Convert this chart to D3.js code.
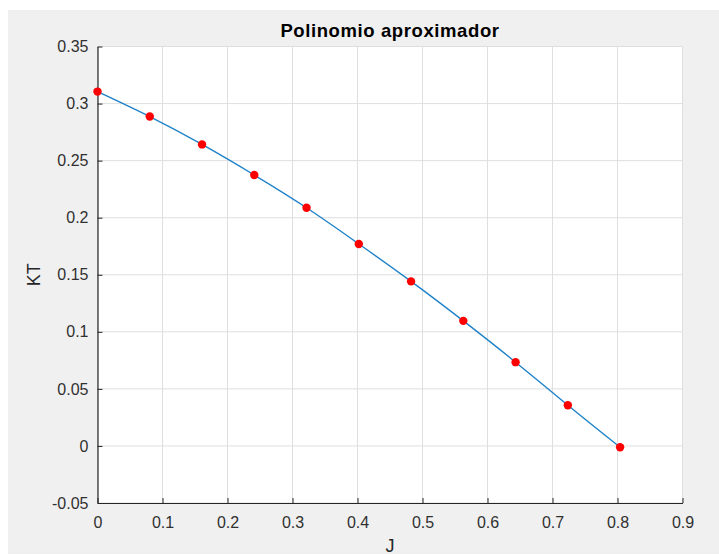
<!DOCTYPE html>
<html>
<head>
<meta charset="utf-8">
<script src="https://d3js.org/d3.v7.min.js"></script>
<style>
    body {margin: 0; background: #fff; font-family: "Liberation Sans", Arial, sans-serif;}
    .tick text {fill: #303030; font-size: 16px;}
    .grid line {stroke: #dfdfdf; stroke-width: 1px;}
</style>
</head>
<body>
<div id="chart"></div>
<script>

    // J values (x) and measured KT values (y)
    let J = [0, 0.0804, 0.1608, 0.2412, 0.3216, 0.402, 0.4824, 0.5628, 0.6432, 0.7236, 0.804];
    let KT = [0.3105, 0.2886, 0.2642, 0.2374, 0.2087, 0.177, 0.1442, 0.1096, 0.0734, 0.0357, -0.0011];

    let xTicks = [0, 0.1, 0.2, 0.3, 0.4, 0.5, 0.6, 0.7, 0.8, 0.9];
    let yTicks = [-0.05, 0, 0.05, 0.1, 0.15, 0.2, 0.25, 0.3, 0.35];

    let W = 719, H = 555;
    let plot = {left: 97.5, right: 682.5, top: 46.5, bottom: 503};

    let data = J.map((d, i) => ({j: d, kt: KT[i]}));

    let x = d3.scaleLinear().domain([0, 0.9]).range([plot.left, plot.right]);
    let y = d3.scaleLinear().domain([-0.05, 0.35]).range([plot.bottom, plot.top]);

    // plain hyphen for negatives, like MATLAB
    let fmt = d => String(+d.toFixed(2));

    let svg = d3.select("#chart").append("svg")
        .attr("width", W)
        .attr("height", H);

    // figure background
    svg.append("rect")
        .attr("x", 8).attr("y", 10)
        .attr("width", W - 8).attr("height", H - 11)
        .attr("fill", "#f0f0f0");

    svg.append("rect")
        .attr("x", plot.left).attr("y", plot.top)
        .attr("width", plot.right - plot.left)
        .attr("height", plot.bottom - plot.top)
        .attr("fill", "#fff");

    // grid
    let grid = svg.append("g").attr("class", "grid");
    grid.selectAll(".gx").data(xTicks).enter().append("line")
        .attr("x1", d => x(d)).attr("x2", d => x(d))
        .attr("y1", plot.top).attr("y2", plot.bottom);
    grid.selectAll(".gy").data(yTicks).enter().append("line")
        .attr("x1", plot.left).attr("x2", plot.right)
        .attr("y1", d => y(d)).attr("y2", d => y(d));

    // axes (MATLAB style: ticks pointing inward)
    let xAxis = d3.axisBottom(x)
        .tickValues(xTicks)
        .tickSizeInner(-5)
        .tickSizeOuter(0)
        .tickPadding(14)
        .tickFormat(fmt);

    let yAxis = d3.axisLeft(y)
        .tickValues(yTicks)
        .tickSizeInner(-5)
        .tickSizeOuter(0)
        .tickPadding(9)
        .tickFormat(fmt);

    let gx = svg.append("g")
        .attr("transform", "translate(0," + plot.bottom + ")")
        .call(xAxis);
    gx.select(".domain").attr("stroke", "#262626").attr("stroke-width", 1.2);
    gx.selectAll(".tick line").attr("stroke", "#262626");

    let gy = svg.append("g")
        .attr("transform", "translate(" + plot.left + ",0)")
        .call(yAxis);
    gy.select(".domain").attr("stroke", "#262626").attr("stroke-width", 1.2);
    gy.selectAll(".tick line").attr("stroke", "#262626");
    gy.selectAll(".tick text").attr("dy", "0.32em");

    // curve
    let line = d3.line()
        .x(d => x(d.j))
        .y(d => y(d.kt))
        .curve(d3.curveNatural);

    svg.append("path")
        .datum(data)
        .attr("d", line)
        .attr("fill", "none")
        .attr("stroke", "#1f82c9")
        .attr("stroke-width", 1.4);

    svg.selectAll(".pt")
        .data(data)
        .enter().append("circle")
        .attr("cx", d => x(d.j))
        .attr("cy", d => y(d.kt))
        .attr("r", 4.2)
        .attr("fill", "#ff0000");

    // labels
    svg.append("text")
        .attr("x", (plot.left + plot.right) / 2)
        .attr("y", 37)
        .attr("text-anchor", "middle")
        .attr("font-size", "18.5px")
        .attr("font-weight", "bold")
        .attr("letter-spacing", "0.6px")
        .attr("fill", "#000")
        .text("Polinomio aproximador");

    svg.append("text")
        .attr("x", (plot.left + plot.right) / 2)
        .attr("y", 552)
        .attr("text-anchor", "middle")
        .attr("font-size", "18px")
        .attr("fill", "#262626")
        .text("J");

    svg.append("text")
        .attr("transform", "translate(40," + ((plot.top + plot.bottom) / 2) + ") rotate(-90)")
        .attr("text-anchor", "middle")
        .attr("font-size", "18px")
        .attr("fill", "#262626")
        .text("KT");

</script>
</body>
</html>
